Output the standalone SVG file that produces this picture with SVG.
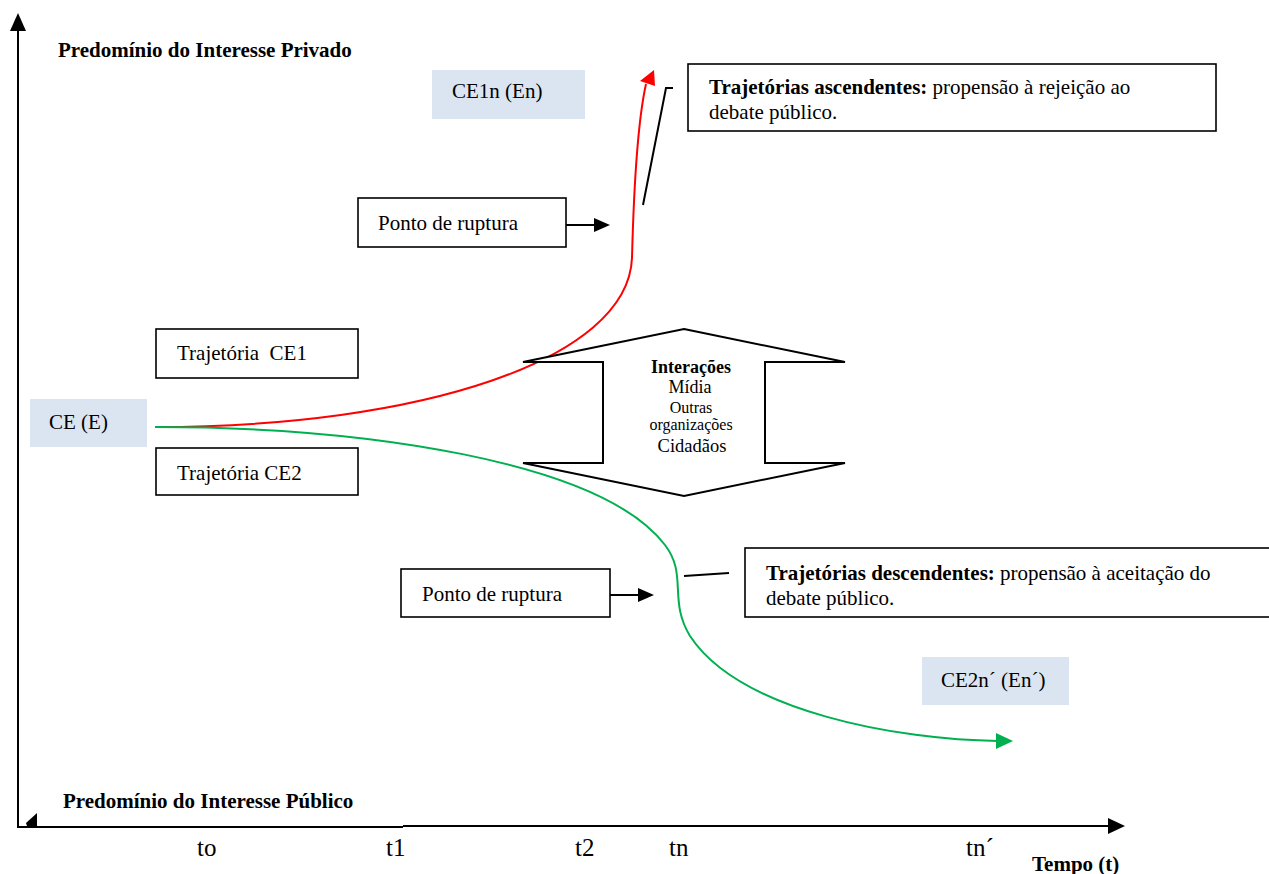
<svg xmlns="http://www.w3.org/2000/svg" width="1269" height="874" viewBox="0 0 1269 874">
<style>
text{font-family:"Liberation Serif","Times New Roman",serif;fill:#000}
.b{font-weight:bold}
.box{fill:#fff;stroke:#000;stroke-width:1.6}
.blue{fill:#dbe5f1}
.ln{stroke:#000;stroke-width:2;fill:none}
</style>
<rect width="1269" height="874" fill="#fff"/>
<g id="axes">
<line class="ln" x1="18" y1="828" x2="18" y2="30"/>
<polygon points="18,13 10,31 26,31" fill="#000"/>
<line class="ln" x1="17" y1="827" x2="403" y2="827"/>
<line class="ln" x1="403" y1="826" x2="1110" y2="826"/>
<polygon points="1125,826 1108,818 1108,834" fill="#000"/>
<polygon points="26,823 37,813 37,826 27,826" fill="#000"/>
</g>
<g id="labels">
<text class="b" x="58" y="57" font-size="21">Predomínio do Interesse Privado</text>
<text class="b" x="63" y="808" font-size="21">Predomínio do Interesse Público</text>
<text x="197" y="856" font-size="25">to</text>
<text x="386" y="856" font-size="25">t1</text>
<text x="575" y="856" font-size="25">t2</text>
<text x="669" y="856" font-size="25">tn</text>
<text x="966" y="856" font-size="25">tn´</text>
<text class="b" x="1032" y="871" font-size="21">Tempo (t)</text>
</g>
<g id="connectors">
<path d="M155,427 C420,427 628,360 632,258 C634,180 638,120 646,84" stroke="#ff0000" stroke-width="2" fill="none"/>
<polygon points="654,70 640,81 655,86" fill="#ff0000"/>
<path d="M155,427 C360,427 600,460 665,545 C688,575 668,600 690,636 C740,712 900,740 998,741" stroke="#00b050" stroke-width="2" fill="none"/>
<polygon points="1013,741 996,733 996,749" fill="#00b050"/>
<line class="ln" x1="566" y1="225" x2="594" y2="225"/>
<polygon points="610,225 594,218 594,232" fill="#000"/>
<line class="ln" x1="610" y1="595" x2="638" y2="595"/>
<polygon points="654,595 638,588 638,602" fill="#000"/>
<polyline class="ln" points="643,205 666,88 673,88"/>
<line class="ln" x1="684" y1="576" x2="729" y2="573"/>
</g>
<g id="ce1n"><rect class="blue" x="432" y="70" width="153" height="49"/><text x="452" y="98" font-size="21">CE1n (En)</text></g>
<g id="asc"><rect class="box" x="688" y="64" width="528" height="67"/>
<text x="709" y="94" font-size="21"><tspan class="b">Trajetórias ascendentes:</tspan> propensão à rejeição ao</text>
<text x="709" y="119" font-size="21">debate público.</text></g>
<g id="ruptura1"><rect class="box" x="358" y="198" width="208" height="49"/><text x="378" y="230" font-size="21">Ponto de ruptura</text></g>
<g id="traj1"><rect class="box" x="156" y="329" width="202" height="49"/><text x="177" y="360" font-size="21" xml:space="preserve">Trajetória  CE1</text></g>
<g id="ce"><rect class="blue" x="30" y="399" width="117" height="48"/><text x="49" y="429" font-size="21">CE (E)</text></g>
<g id="traj2"><rect class="box" x="156" y="448" width="202" height="47"/><text x="177" y="480" font-size="21">Trajetória CE2</text></g>
<g id="interacoes">
<polygon points="684,329 845,362 765,362 765,463 845,463 684,496 523,463 603,463 603,362 523,362" fill="#fff" stroke="#000" stroke-width="2"/>
<text class="b" x="691" y="373" font-size="18" text-anchor="middle">Interações</text>
<text x="690" y="393" font-size="18" text-anchor="middle">Mídia</text>
<text x="691" y="413" font-size="16" text-anchor="middle">Outras</text>
<text x="691" y="430" font-size="16" text-anchor="middle">organizações</text>
<text x="692" y="452" font-size="18.5" text-anchor="middle">Cidadãos</text>
</g>
<g id="ruptura2"><rect class="box" x="401" y="569" width="209" height="48"/><text x="422" y="601" font-size="21">Ponto de ruptura</text></g>
<g id="desc"><rect class="box" x="745" y="548" width="530" height="69"/>
<text x="766" y="580" font-size="21"><tspan class="b">Trajetórias descendentes:</tspan> propensão à aceitação do</text>
<text x="766" y="605" font-size="21">debate público.</text></g>
<g id="ce2n"><rect class="blue" x="922" y="657" width="147" height="48"/><text x="941" y="687" font-size="21">CE2n´ (En´)</text></g>
</svg>
